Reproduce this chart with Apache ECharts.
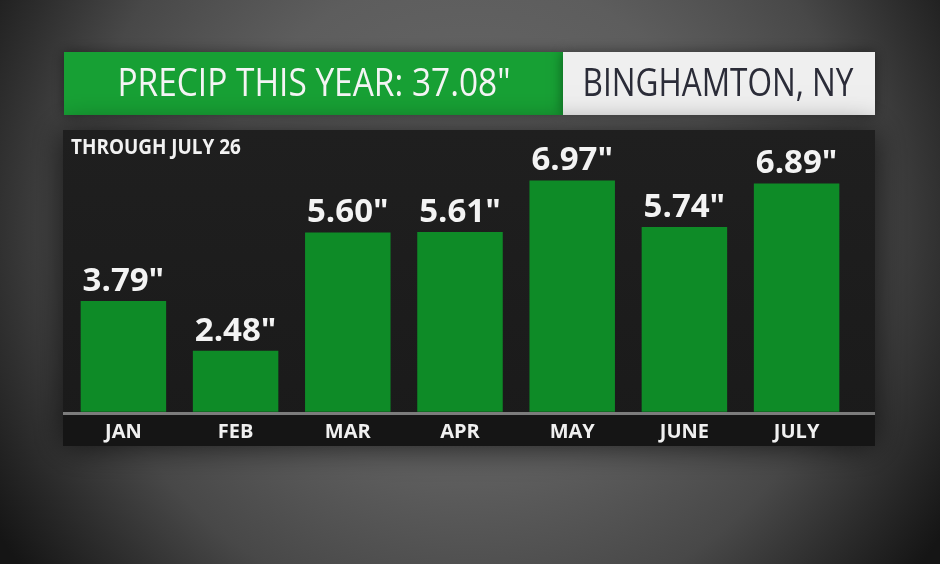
<!DOCTYPE html>
<html>
<head>
<meta charset="utf-8">
<script src="https://cdn.jsdelivr.net/npm/echarts@6/dist/echarts.min.js"></script>
<style>
html,body{margin:0;padding:0;background:#3a3a3a;}
#c{width:940px;height:564px;}
</style>
</head>
<body>
<div id="c"></div>
<script>
const months = ['JAN', 'FEB', 'MAR', 'APR', 'MAY', 'JUNE', 'JULY'];
const precip = [3.79, 2.48, 5.60, 5.61, 6.97, 5.74, 6.89];
const titleText = 'PRECIP THIS YEAR: 37.08"';
const locationText = 'BINGHAMTON, NY';
const subtitleText = 'THROUGH JULY 26';

const chart = echarts.init(document.getElementById('c'), null, {renderer: 'canvas'});

const option = {
  animation: false,
  backgroundColor: 'transparent',
  grid: {left: 67.3, right: 87.3, top: 160.4, bottom: 152.3, containLabel: false},
  xAxis: {
    type: 'category',
    data: months,
    axisLine: {show: false},
    axisTick: {show: false},
    axisLabel: {
      color: '#f0f0f0',
      fontFamily: 'Open Sans',
      fontWeight: 'bold',
      fontSize: 20,
      lineHeight: 20,
      margin: 11
    }
  },
  yAxis: {
    type: 'value',
    min: 0.87,
    max: 7.5,
    show: false,
    splitLine: {show: false}
  },
  series: [{
    type: 'bar',
    data: precip,
    barWidth: 85.5,
    z: 5,
    itemStyle: {color: '#0e8b27'},
    label: {
      show: true,
      position: 'top',
      distance: 3,
      color: '#f3f3f3',
      fontFamily: 'Open Sans',
      fontWeight: 'bold',
      fontSize: 33,
      formatter: p => p.value.toFixed(2) + '"'
    }
  }],
  graphic: [
    // background vignette
    {type: 'rect', z: -10, shape: {x: 0, y: 0, width: 940, height: 564},
      style: {fill: {type: 'radial', x: 0.5, y: 0.4, r: 1.0, colorStops: [
        {offset: 0, color: '#6a6a6a'}, {offset: 0.45, color: '#5d5d5d'},
        {offset: 0.7, color: '#484848'}, {offset: 0.85, color: '#2e2e2e'}, {offset: 1, color: '#151515'}]}}},
    // title boxes
    {type: 'rect', z: -5, shape: {x: 64, y: 52, width: 499, height: 63},
      style: {fill: '#17a034', shadowBlur: 12, shadowColor: 'rgba(0,0,0,0.45)'}},
    {type: 'rect', z: -5, shape: {x: 563, y: 52, width: 312, height: 63},
      style: {fill: '#efefef', shadowBlur: 12, shadowColor: 'rgba(0,0,0,0.45)'}},
    {type: 'text', z: 20, x: 314, y: 85, scaleX: 0.88,
      style: {text: titleText, fill: '#f4f4f4', font: '38px "Open Sans"', textAlign: 'center', textVerticalAlign: 'middle'}},
    {type: 'text', z: 20, x: 718, y: 85, scaleX: 0.83,
      style: {text: locationText, fill: '#2b2c38', font: '38px "Open Sans"', textAlign: 'center', textVerticalAlign: 'middle'}},
    // chart panel
    {type: 'rect', z: -5, shape: {x: 63, y: 130, width: 812, height: 316},
      style: {fill: {type: 'linear', x: 0, y: 0, x2: 0, y2: 1, colorStops: [
        {offset: 0, color: '#1f1f1f'}, {offset: 1, color: '#1a1a1a'}]},
        shadowBlur: 30, shadowColor: 'rgba(0,0,0,0.7)'}},
    {type: 'rect', z: -4, shape: {x: 63, y: 415, width: 812, height: 31},
      style: {fill: '#151515'}},
    {type: 'rect', z: -4, shape: {x: 63, y: 412, width: 812, height: 3},
      style: {fill: '#7c7c7c'}},
    {type: 'text', z: 20, x: 71, y: 148, scaleX: 0.9,
      style: {text: subtitleText, fill: '#f2f2f2', font: 'bold 21px "Open Sans"', textAlign: 'left', textVerticalAlign: 'middle'}}
  ]
};
chart.setOption(option);
</script>
</body>
</html>
